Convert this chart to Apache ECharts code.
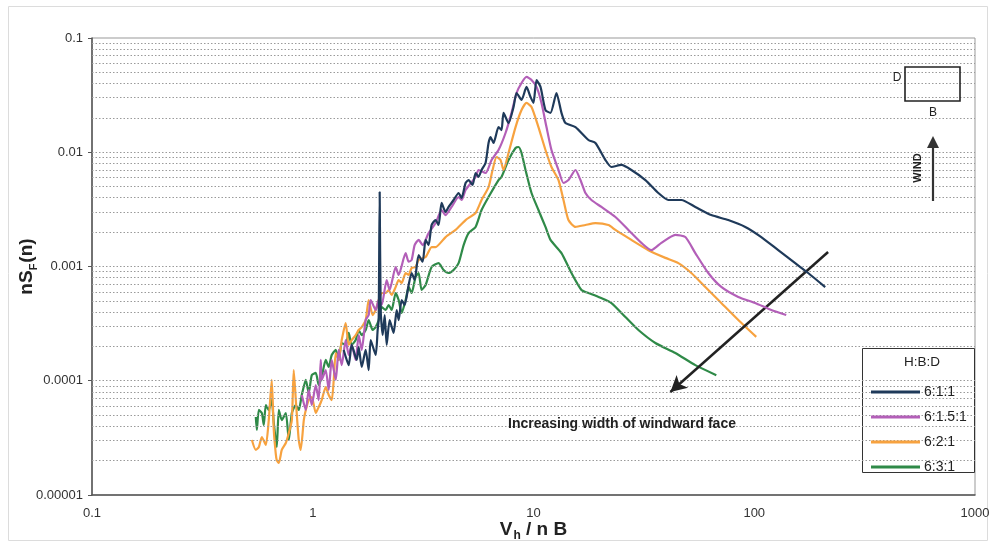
<!DOCTYPE html>
<html><head><meta charset="utf-8">
<script src="https://cdn.jsdelivr.net/npm/echarts@6/dist/echarts.min.js"></script>
<style>html,body{margin:0;padding:0;background:#fff}#c{width:994px;height:547px}</style>
</head><body><div id="c"></div>
<script>
const seriesNames = ['6:1:1', '6:1.5:1', '6:2:1', '6:3:1'];
const seriesColors = ['#1f3a5a', '#b35fb8', '#f7a23f', '#2f8a48'];
const xTickLabels = ['0.1', '1', '10', '100', '1000'];
const yTickLabels = ['0.00001', '0.0001', '0.001', '0.01', '0.1'];

const data611 = [
 [1.381,0.000186],[1.455,0.000137],[1.501,0.000206],[1.582,0.000152],[1.615,0.000197],[1.666,0.000132],
 [1.737,0.000186],[1.792,0.000124],[1.830,0.000227],[1.928,0.000168],[1.968,0.000278],[1.989,0.00034],
 [2.010,0.00449],[2.031,0.000416],[2.074,0.000251],[2.118,0.000376],[2.162,0.000206],[2.230,0.00034],
 [2.325,0.000262],[2.400,0.000416],[2.450,0.00034],[2.528,0.000509],[2.608,0.00046],[2.719,0.000689],
 [2.805,0.000877],[2.894,0.000762],[3.017,0.00126],[3.146,0.0011],[3.246,0.00171],[3.349,0.00154],
 [3.455,0.00231],[3.602,0.00255],[3.716,0.00231],[3.834,0.0036],[3.998,0.0030],[4.125,0.00332],
 [4.345,0.00382],[4.578,0.0044],[4.723,0.00398],[4.924,0.00538],[5.081,0.00571],[5.297,0.00517],
 [5.465,0.00658],[5.638,0.0061],[5.817,0.00699],[6.065,0.00805],[6.257,0.01205],[6.389,0.0136],
 [6.592,0.01205],[6.943,0.0166],[7.164,0.01565],[7.315,0.0221],[7.707,0.018],[8.121,0.0249],
 [8.379,0.033],[8.827,0.0287],[9.296,0.0373],[9.692,0.0305],[10.0,0.027],[10.32,0.0429],
 [10.76,0.0373],[11.33,0.0234],[11.94,0.0221],[12.71,0.033],[13.39,0.0221],[13.96,0.018],
 [15.49,0.0166],[17.74,0.0128],[19.08,0.01205],[21.18,0.00855],[22.54,0.00743],[25.02,0.00774],
 [27.76,0.00699],[32.13,0.00571],[36.78,0.0044],[40.83,0.00382],[46.75,0.00382],[54.08,0.00332],
 [63.88,0.00282],[76.27,0.00255],[91.08,0.00222],[107.6,0.00181],[128.4,0.00139],[153.3,0.00107],
 [175.5,0.000877],[209.6,0.00066]
];
const data6151 = [
 [0.892,0.000075],[0.930,0.0000555],[0.959,0.000083],[0.990,0.0000613],[1.032,0.0000918],[1.064,0.0000678],
 [1.087,0.000152],[1.098,0.000102],[1.145,0.000124],[1.181,0.000083],[1.219,0.000152],[1.271,0.000102],
 [1.311,0.000186],[1.353,0.000137],[1.410,0.000227],[1.455,0.000168],[1.501,0.000206],[1.565,0.000152],
 [1.615,0.000251],[1.666,0.000186],[1.737,0.00034],[1.792,0.000376],[1.830,0.000509],[1.928,0.000416],
 [1.989,0.000509],[2.052,0.00046],[2.162,0.000762],[2.230,0.000623],[2.375,0.00099],[2.450,0.000843],
 [2.635,0.00131],[2.719,0.0011],[2.805,0.00114],[2.894,0.00154],[3.017,0.00171],[3.146,0.00154],
 [3.349,0.00196],[3.602,0.0024],[3.834,0.00312],[3.998,0.00282],[4.256,0.00332],[4.578,0.00406],
 [4.723,0.00382],[4.924,0.00467],[5.465,0.00607],[5.638,0.00699],[6.065,0.00658],[6.457,0.00855],
 [6.943,0.01046],[7.469,0.01474],[7.952,0.0221],[8.379,0.033],[8.827,0.0404],[9.296,0.0456],
 [9.795,0.0429],[10.32,0.0373],[10.87,0.027],[11.45,0.0166],[12.06,0.01046],[12.98,0.00699],
 [13.67,0.00538],[14.40,0.00571],[15.49,0.00699],[16.32,0.00571],[17.19,0.0044],[18.30,0.00382],
 [20.31,0.00332],[23.50,0.00271],[26.91,0.00209],[30.82,0.00161],[34.20,0.00139],[37.95,0.00161],
 [43.92,0.00189],[48.74,0.00181],[54.08,0.00131],[61.92,0.000877],[70.91,0.000662],[84.66,0.000541],
 [101.0,0.000479],[119.4,0.000416],[139.6,0.000376]
];
const data621 = [
 [0.530,0.0000303],[0.552,0.0000248],[0.570,0.0000263],[0.588,0.0000322],[0.613,0.0000274],[0.632,0.0000453],
 [0.652,0.000102],[0.666,0.0000371],[0.680,0.0000229],[0.687,0.0000202],[0.702,0.0000191],[0.724,0.0000248],
 [0.755,0.0000285],[0.779,0.0000349],[0.804,0.0000453],[0.820,0.000124],[0.838,0.0000678],[0.864,0.0000303],
 [0.882,0.0000248],[0.911,0.0000453],[0.930,0.0000555],[0.959,0.0000678],[0.990,0.0000721],[1.032,0.0000522],
 [1.064,0.0000589],[1.098,0.0000678],[1.145,0.0000881],[1.181,0.000075],[1.219,0.0000678],[1.245,0.000102],
 [1.271,0.000175],[1.311,0.000152],[1.353,0.000227],[1.410,0.00032],[1.455,0.000206],[1.501,0.000227],
 [1.565,0.000251],[1.615,0.000278],[1.666,0.000295],[1.737,0.00034],[1.792,0.000509],[1.868,0.000376],
 [1.928,0.000416],[1.989,0.000509],[2.052,0.000586],[2.140,0.000586],[2.207,0.000623],[2.278,0.000563],
 [2.375,0.000662],[2.450,0.000762],[2.528,0.000717],[2.635,0.000877],[2.719,0.000843],[2.805,0.00097],
 [2.924,0.00099],[3.017,0.00114],[3.246,0.00121],[3.455,0.00148],[3.602,0.00148],[3.998,0.00181],
 [4.437,0.00209],[4.924,0.00255],[5.465,0.00294],[5.817,0.00382],[6.257,0.00496],[6.525,0.00699],
 [6.800,0.00909],[7.090,0.00855],[7.315,0.00699],[7.707,0.00985],[8.292,0.0166],[8.827,0.0234],
 [9.296,0.027],[9.795,0.0249],[10.53,0.0166],[11.33,0.01046],[12.06,0.00743],[12.98,0.00571],
 [13.67,0.00382],[14.40,0.00255],[15.49,0.00222],[17.19,0.00231],[19.08,0.0024],[21.85,0.00231],
 [23.50,0.00209],[27.76,0.00171],[33.15,0.00139],[39.57,0.00119],[45.32,0.00107],[51.87,0.000877],
 [60.01,0.000662],[70.91,0.000479],[84.66,0.00034],[102.1,0.000242]
];
const data631 = [
 [0.552,0.0000482],[0.558,0.0000371],[0.570,0.0000555],[0.588,0.0000522],[0.600,0.000041],[0.613,0.0000613],
 [0.632,0.0000555],[0.652,0.0000678],[0.666,0.0000427],[0.687,0.0000263],[0.702,0.0000555],[0.724,0.0000453],
 [0.755,0.0000522],[0.779,0.0000303],[0.804,0.0000522],[0.838,0.0000613],[0.864,0.0000555],[0.892,0.000075],
 [0.930,0.000102],[0.959,0.0000781],[0.990,0.000112],[1.032,0.000117],[1.064,0.0000918],[1.098,0.000108],
 [1.145,0.000152],[1.181,0.000132],[1.219,0.000168],[1.271,0.000186],[1.311,0.000152],[1.353,0.000214],
 [1.410,0.000206],[1.455,0.000262],[1.501,0.000206],[1.565,0.000227],[1.615,0.000278],[1.666,0.000251],
 [1.737,0.000278],[1.792,0.00034],[1.868,0.000278],[1.928,0.000295],[1.989,0.00034],[2.052,0.000442],
 [2.140,0.000416],[2.207,0.00046],[2.278,0.000416],[2.375,0.000586],[2.450,0.000509],[2.528,0.000392],
 [2.635,0.000509],[2.719,0.000662],[2.805,0.000586],[2.924,0.00081],[3.017,0.000877],[3.113,0.000623],
 [3.246,0.000689],[3.455,0.00099],[3.716,0.00107],[3.915,0.000932],[4.125,0.000877],[4.345,0.000932],
 [4.578,0.00107],[4.825,0.00154],[5.081,0.00196],[5.465,0.00222],[5.817,0.00312],[6.257,0.00406],
 [6.943,0.00571],[7.164,0.00607],[7.707,0.00855],[8.292,0.01089],[8.555,0.01112],[8.827,0.00985],
 [9.201,0.00699],[9.795,0.0044],[10.53,0.00312],[11.33,0.00222],[11.94,0.00171],[13.39,0.00131],
 [14.86,0.000877],[16.49,0.000623],[17.74,0.000586],[19.69,0.000541],[22.54,0.000479],[26.08,0.000361],
 [29.87,0.000278],[35.65,0.000214],[43.92,0.000175],[54.08,0.000137],[67.32,0.000112]
];
const arrowFrom = [216, 0.00134];
const arrowTo = [41.7, 0.0000797];

const seriesData = [data611, data6151, data621, data631];

// minor/major horizontal gridline values (log paper)
const gridValues = [];
for (let e = -5; e <= -2; e++) {
  for (let k = 1; k <= 9; k++) {
    const v = +(k * Math.pow(10, e)).toPrecision(3);
    if (v > 1e-5 && v < 0.1) gridValues.push(v);
  }
}

const chart = echarts.init(document.getElementById('c'));
const FONT = 'Liberation Sans, Arial, sans-serif';

const series = [{
  type: 'line', data: [], silent: true, z: 1,
  markLine: {
    silent: true, symbol: 'none', animation: false, precision: 12,
    label: { show: false },
    lineStyle: { color: '#9a9a9a', type: [1.5, 2], width: 1 },
    data: gridValues.map(v => ({ yAxis: v }))
  }
}];
seriesNames.forEach((n, i) => {
  series.push({
    name: n, type: 'line', data: seriesData[i], showSymbol: false, smooth: 0.2,
    lineStyle: { color: seriesColors[i], width: 2.2 }, itemStyle: { color: seriesColors[i] },
    z: 3 + (3 - i)
  });
});
series.push({
  type: 'line', data: [], silent: true, z: 8,
  markLine: {
    silent: true, animation: false, symbol: ['none', 'arrow'], symbolSize: [13, 16], precision: 12,
    label: { show: false },
    lineStyle: { color: '#222', type: 'solid', width: 2.5 },
    data: [[{ coord: arrowFrom }, { coord: arrowTo }]]
  }
});

chart.setOption({
  animation: false,
  backgroundColor: '#fff',
  grid: { left: 92, right: 19, top: 38, bottom: 52, show: true, borderColor: '#999', borderWidth: 1, outerBoundsMode: 'none', containLabel: false },
  xAxis: {
    type: 'log', logBase: 10, min: 0.1, max: 1000,
    axisLine: { show: true, lineStyle: { color: '#555', width: 1.5 } },
    axisTick: { show: false },
    splitLine: { show: false },
    axisLabel: { formatter: v => xTickLabels[Math.round(Math.log10(v)) + 1], margin: 12, color: '#333', fontSize: 13, fontFamily: FONT },
    name: '{v|V}{s|h}{v| / n B}', nameLocation: 'middle', nameGap: 23, nameMoveOverlap: false,
    nameTextStyle: { rich: {
      v: { fontSize: 19, fontWeight: 'bold', color: '#222', fontFamily: FONT, lineHeight: 24, verticalAlign: 'middle' },
      s: { fontSize: 12, fontWeight: 'bold', color: '#222', fontFamily: FONT, lineHeight: 24, verticalAlign: 'bottom', padding: [10, 0, 0, 1] }
    } }
  },
  yAxis: {
    type: 'log', logBase: 10, min: 0.00001, max: 0.1,
    axisLine: { show: true, lineStyle: { color: '#555', width: 1.5 } },
    axisTick: { show: true, length: 4, lineStyle: { color: '#555' } },
    splitLine: { show: false },
    axisLabel: { formatter: v => yTickLabels[Math.round(Math.log10(v)) + 5], margin: 9, color: '#333', fontSize: 13, fontFamily: FONT },
    name: '{v|nS}{s|F}{v|(n)}', nameLocation: 'middle', nameGap: 53, nameRotate: 90, nameMoveOverlap: false,
    nameTextStyle: { rich: {
      v: { fontSize: 19, fontWeight: 'bold', color: '#222', fontFamily: FONT, lineHeight: 24, verticalAlign: 'middle' },
      s: { fontSize: 11, fontWeight: 'bold', color: '#222', fontFamily: FONT, lineHeight: 24, verticalAlign: 'bottom', padding: [10, 1, 0, 0] }
    } }
  },
  legend: {
    data: seriesNames, orient: 'vertical', left: 866, top: 380, z: 6,
    icon: 'rect', itemWidth: 49, itemHeight: 3, itemGap: 11,
    textStyle: { fontSize: 14, color: '#222', fontFamily: FONT, padding: [0, 0, 0, -1] }
  },
  graphic: [
    { type: 'rect', z: 5, shape: { x: 862.5, y: 348.5, width: 112, height: 124 }, style: { fill: '#fff', stroke: '#333', lineWidth: 1 } },
    { type: 'text', z: 6, x: 922, y: 362, style: { text: 'H:B:D', fontSize: 13.5, fill: '#222', fontFamily: FONT, align: 'center', verticalAlign: 'middle' } },
    { type: 'text', z: 7, x: 622, y: 424, style: { text: 'Increasing width of windward face', fontSize: 14, fontWeight: 'bold', fill: '#222', fontFamily: FONT, align: 'center', verticalAlign: 'middle' } },
    { type: 'rect', z: 7, shape: { x: 905, y: 67, width: 55, height: 34 }, style: { fill: 'rgba(0,0,0,0)', stroke: '#222', lineWidth: 1.6 } },
    { type: 'text', z: 7, x: 897, y: 78, style: { text: 'D', fontSize: 12, fill: '#222', fontFamily: FONT, align: 'center', verticalAlign: 'middle' } },
    { type: 'text', z: 7, x: 933, y: 113, style: { text: 'B', fontSize: 12, fill: '#222', fontFamily: FONT, align: 'center', verticalAlign: 'middle' } },
    { type: 'line', z: 7, shape: { x1: 933, y1: 201, x2: 933, y2: 146 }, style: { stroke: '#333', lineWidth: 2.2 } },
    { type: 'polygon', z: 7, shape: { points: [[927, 148], [939, 148], [933, 136]] }, style: { fill: '#333' } },
    { type: 'text', z: 7, x: 918, y: 168, rotation: Math.PI / 2, style: { text: 'WIND', fontSize: 11, fontWeight: 'bold', fill: '#222', fontFamily: FONT, align: 'center', verticalAlign: 'middle' } },
    { type: 'rect', z: 0, silent: true, shape: { x: 8.5, y: 6.5, width: 979, height: 534 }, style: { fill: 'rgba(0,0,0,0)', stroke: '#dcdcdc', lineWidth: 1 } }
  ],
  series: series
});
</script>
</body></html>
